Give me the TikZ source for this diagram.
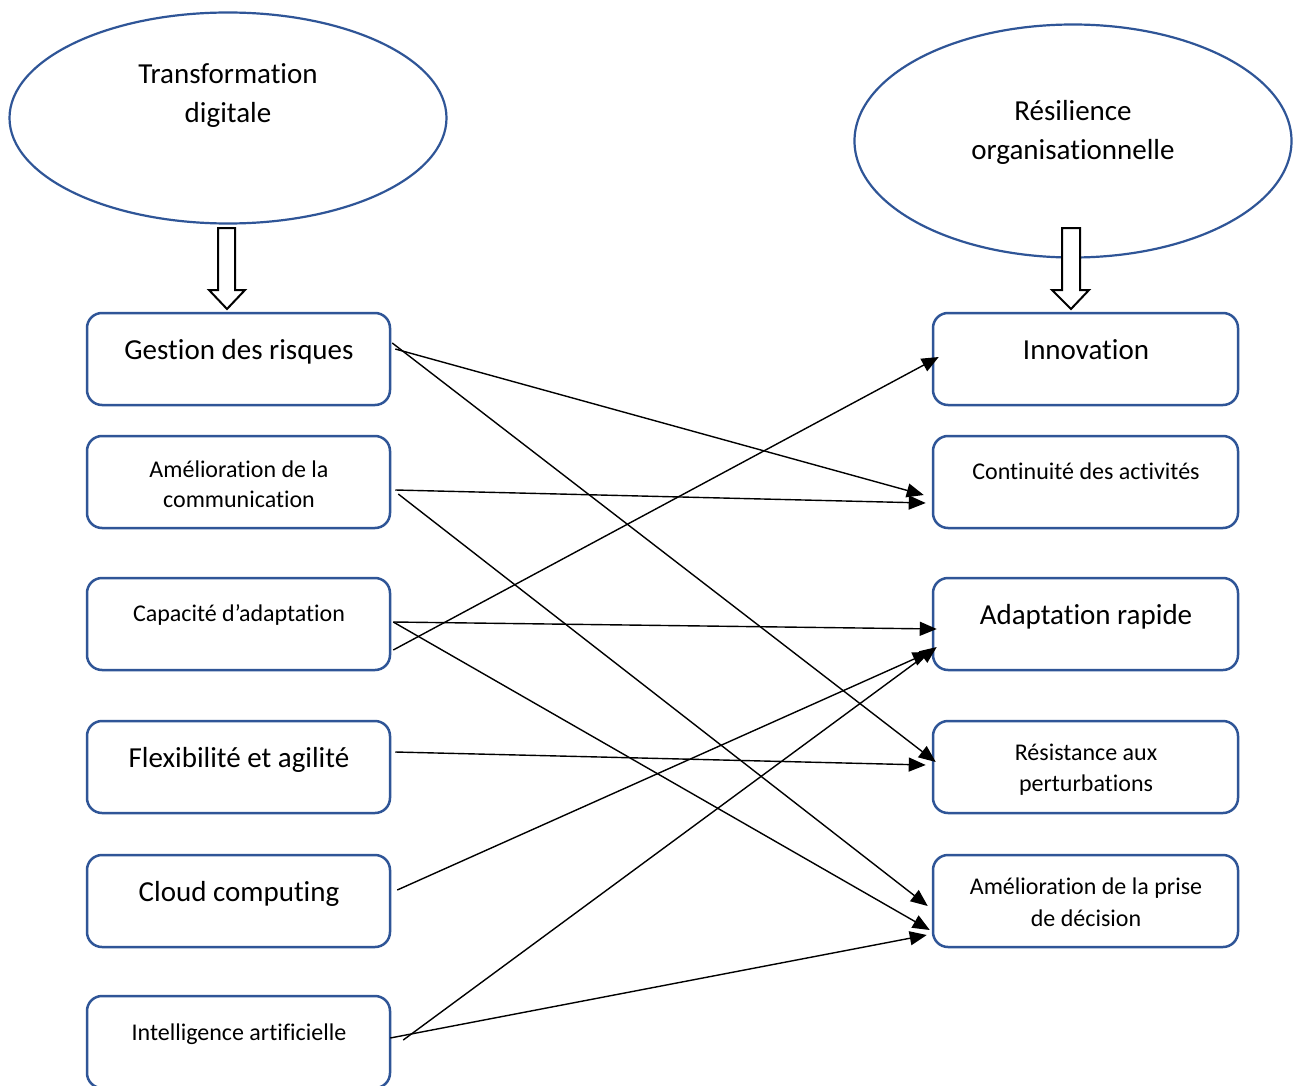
\documentclass[tikz,border=0pt]{standalone}
\usepackage{fontspec}
\setmainfont{Carlito}[RawFeature={-liga;-clig;-calt;-dlig}]
\usetikzlibrary{arrows.meta,shapes.geometric}
\definecolor{bord}{RGB}{47,85,151}
\begin{document}
\begin{tikzpicture}[x=1pt,y=-1pt,
 box/.style={draw=bord,line width=2.5pt,rounded corners=15pt,minimum width=303pt,minimum height=92pt,inner sep=0pt},
 rbox/.style={box,minimum width=305pt},
 oval/.style={draw=bord,line width=2.2pt,ellipse,inner sep=0pt},
 big/.style={font=\fontsize{29}{35}\selectfont,anchor=base,inner sep=0pt},
 small/.style={font=\fontsize{24}{29}\selectfont,anchor=base,inner sep=0pt},
 link/.style={draw=black,line width=1.4pt,-{Triangle[length=17pt,width=14pt]}},
 hollow/.style={draw=black,line width=2pt,fill=white,line join=miter}]
\useasboundingbox (0,0) rectangle (1298,1086);
\clip (0,0) rectangle (1298,1086);
\fill[white] (0,0) rectangle (1298,1086);

% ellipses
\node[oval,minimum width=437pt,minimum height=211pt] (E1) at (228,118) {};
\node[oval,minimum width=437pt,minimum height=233pt] (E2) at (1073,141) {};
\node[big] (e1a) at (228,84) {Transformation};
\node[big] (e1b) at (228,123) {digitale};
\node[big] (e2a) at (1073,121) {Résilience};
\node[big] (e2b) at (1073,160) {organisationnelle};

% hollow arrows
\draw[hollow] (218,228) -- (235,228) -- (235,290) -- (245,290) -- (227,309) -- (209,290) -- (218,290) -- cycle;
\draw[hollow] (1062,228) -- (1080,228) -- (1080,290) -- (1089,290) -- (1071,309) -- (1052,290) -- (1062,290) -- cycle;

% left boxes
\node[box] (L1) at (238.5,359) {};
\node[box] (L2) at (238.5,482) {};
\node[box] (L3) at (238.5,624) {};
\node[box] (L4) at (238.5,767) {};
\node[box] (L5) at (238.5,901) {};
\node[box] (L6) at (238.5,1042) {};
% right boxes
\node[rbox] (R1) at (1085.5,359) {};
\node[rbox] (R2) at (1085.5,482) {};
\node[rbox] (R3) at (1085.5,624) {};
\node[rbox] (R4) at (1085.5,767) {};
\node[rbox] (R5) at (1085.5,901) {};

% texts left
\node[big] (t1) at (239,359) {Gestion des risques};
\node[small] (t2a) at (239,477) {Amélioration de la};
\node[small] (t2b) at (239,507) {communication};
\node[small] (t3) at (239,621) {Capacité d’adaptation};
\node[big] (t4) at (239,767) {Flexibilité et agilité};
\node[big] (t5) at (239,901) {Cloud computing};
\node[small] (t6) at (239,1040) {Intelligence artificielle};
% texts right
\node[big] (r1) at (1086,359) {Innovation};
\node[small] (r2) at (1086,479) {Continuité des activités};
\node[big] (r3) at (1086,624) {Adaptation rapide};
\node[small] (r4a) at (1086,760) {Résistance aux};
\node[small] (r4b) at (1086,791) {perturbations};
\node[small] (r5a) at (1086,894) {Amélioration de la prise};
\node[small] (r5b) at (1086,926) {de décision};

% connectors
\draw[link] ([xshift=4pt,yshift=10pt]L1.east) -- ([xshift=-8pt,yshift=-13pt]R2.west);
\draw[link] ([xshift=1pt,yshift=16pt]L1.east) -- ([xshift=4pt,yshift=5pt]R4.west);
\draw[link] ([xshift=4pt,yshift=-8pt]L2.east) -- ([xshift=-6pt,yshift=-21pt]R2.west);
\draw[link] ([xshift=7pt,yshift=-12pt]L2.east) -- ([xshift=-4pt,yshift=-5pt]R5.west);
\draw[link] ([xshift=2pt,yshift=2pt]L3.east) -- ([xshift=5pt,yshift=-5pt]R3.west);
\draw[link] ([xshift=2pt,yshift=2pt]L3.east) -- ([xshift=-2pt,yshift=-29pt]R5.west);
\draw[link] ([xshift=2pt,yshift=-26pt]L3.east) -- ([xshift=7pt,yshift=2pt]R1.west);
\draw[link] ([xshift=4pt,yshift=15pt]L4.east) -- ([xshift=-6pt,yshift=2pt]R4.west);
\draw[link] ([xshift=6pt,yshift=11pt]L5.east) -- ([xshift=-2pt,yshift=-28pt]R3.west);
\draw[link] ([xshift=12pt,yshift=2pt]L6.east) -- ([xshift=5pt,yshift=-23pt]R3.west);
\draw[link] ([xshift=-1pt,yshift=4pt]L6.east) -- ([xshift=-5pt,yshift=-34pt]R5.west);
\end{tikzpicture}
\end{document}
